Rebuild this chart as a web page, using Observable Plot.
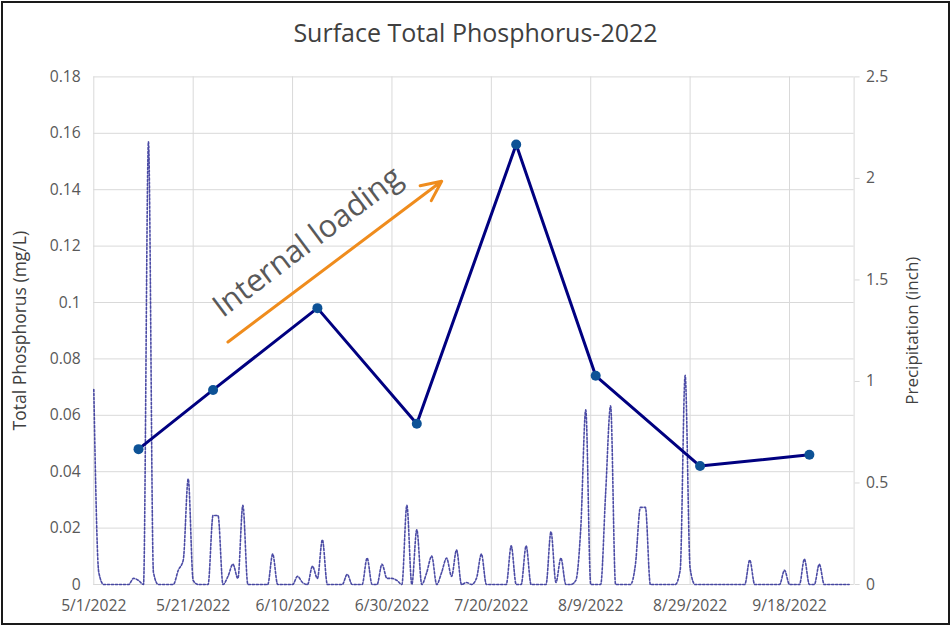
<!DOCTYPE html>
<html>
<head>
<meta charset="utf-8">
<script src="https://cdn.jsdelivr.net/npm/d3@7"></script>
<script src="https://cdn.jsdelivr.net/npm/@observablehq/plot@0.6"></script>
<style>
  html, body { margin: 0; padding: 0; background: #fff; }
  #wrap { position: relative; width: 951px; height: 626px; overflow: hidden; font-family: "Open Sans", sans-serif; }
  #title { position: absolute; left: 0; top: 15px; width: 951px; text-align: center; font-size: 25px; line-height: 34px; color: #404040; }
  #chart { position: absolute; left: 0; top: 58px; }
  #frame { position: absolute; left: 1px; top: 1px; width: 945px; height: 620px; border: 2px solid #1a1a1a; pointer-events: none; }
</style>
</head>
<body>
<div id="wrap">
  <div id="title">Surface Total Phosphorus-2022</div>
  <div id="chart"></div>
  <div id="frame"></div>
</div>
<script>
// ---- data ----
const tpDates = ["2022-05-10","2022-05-25","2022-06-15","2022-07-05","2022-07-25","2022-08-10","2022-08-31","2022-09-22"];
const tpValues = [0.048, 0.069, 0.098, 0.057, 0.156, 0.074, 0.042, 0.046];

const precipStart = "2022-05-01";
const precipValues = [
  0.96, 0.06, 0, 0, 0, 0, 0, 0, 0.03, 0.02,        // May 1-10
  0, 2.18, 0.06, 0, 0, 0, 0, 0.07, 0.12, 0.52,      // May 11-20
  0.02, 0, 0, 0, 0.34, 0.34, 0, 0.04, 0.10, 0.03,   // May 21-30
  0.39, 0, 0, 0, 0, 0, 0.15, 0, 0, 0,               // May 31-Jun 9
  0, 0.04, 0.01, 0, 0.09, 0.03, 0.22, 0, 0, 0,      // Jun 10-19
  0, 0.05, 0, 0, 0, 0.13, 0, 0, 0.10, 0.03,         // Jun 20-29
  0.03, 0.02, 0, 0.39, 0, 0.27, 0, 0.06, 0.14, 0,   // Jun 30-Jul 9
  0.06, 0.13, 0.04, 0.17, 0, 0.01, 0, 0.03, 0.15, 0,// Jul 10-19
  0, 0, 0, 0, 0.19, 0, 0, 0.19, 0, 0,               // Jul 20-29
  0, 0, 0.26, 0.01, 0.13, 0, 0, 0.02, 0.28, 0.86,   // Jul 30-Aug 8
  0, 0, 0, 0.45, 0.88, 0, 0, 0, 0, 0.10,            // Aug 9-18
  0.38, 0.38, 0, 0, 0, 0, 0, 0, 0.07, 1.03,         // Aug 19-28
  0.08, 0, 0, 0, 0, 0, 0, 0, 0, 0,                  // Aug 29-Sep 7
  0, 0, 0.12, 0, 0, 0, 0, 0, 0, 0.07,               // Sep 8-17
  0, 0, 0, 0.125, 0, 0, 0.10, 0, 0, 0,              // Sep 18-27
  0, 0, 0                                           // Sep 28-30
];

const xTicks = ["2022-05-01","2022-05-21","2022-06-10","2022-06-30","2022-07-20","2022-08-09","2022-08-29","2022-09-18"];
const xDomain = ["2022-05-01","2022-10-01"];
const yLeftTicks = [0, 0.02, 0.04, 0.06, 0.08, 0.1, 0.12, 0.14, 0.16, 0.18];
const yRightTicks = [0, 0.5, 1, 1.5, 2, 2.5];

const arrowFrom = ["2022-05-28", 0.086];
const arrowTo = ["2022-07-10", 0.143];
const noteText = ["Internal loading"];
const notePos = ["2022-06-13", 0.1215];

const leftLabel = "Total Phosphorus (mg/L)";
const rightLabel = "Precipitation (inch)";

// ---- build ----
const P = s => new Date(s + "T00:00:00Z");
const yLeftMax = yLeftTicks[yLeftTicks.length - 1];
const yRightMax = yRightTicks[yRightTicks.length - 1];
const k = yLeftMax / yRightMax;

const tp = tpDates.map((d, i) => ({date: P(d), value: tpValues[i]}));
const precip = precipValues.map((v, i) => ({date: d3.utcDay.offset(P(precipStart), i), value: v, scaled: v * k}));
const fmtDate = d => `${d.getUTCMonth() + 1}/${d.getUTCDate()}/${d.getUTCFullYear()}`;
const fmtNum = d => String(+d.toFixed(3));
const grid = "#d9d9d9";
const textCol = "#595959";

const chart = Plot.plot({
  width: 951,
  height: 568,
  marginLeft: 93.3,
  marginRight: 97.4,
  marginTop: 18.4,
  marginBottom: 42,
  x: {type: "utc", domain: xDomain.map(P)},
  y: {domain: [0, yLeftMax]},
  style: {fontFamily: "'Open Sans', sans-serif", fontSize: "15.7px", color: textCol, background: "transparent", overflow: "visible"},
  marks: [
    Plot.gridY(yLeftTicks, {stroke: grid, strokeOpacity: 1}),
    Plot.gridX(xTicks.map(P), {stroke: grid, strokeOpacity: 1}),
    Plot.ruleY([0], {stroke: grid, strokeWidth: 1.2}),
    Plot.ruleX([P(xDomain[1])], {stroke: grid}),
    Plot.axisX(xTicks.map(P), {tickSize: 0, tickPadding: 15, tickFormat: fmtDate, label: null, fill: textCol}),
    Plot.axisY(yLeftTicks, {anchor: "left", tickSize: 0, tickPadding: 13, tickFormat: fmtNum, label: null, fill: textCol}),
    Plot.axisY(yRightTicks.map(v => v * k), {anchor: "right", tickSize: 5, tickPadding: 7, stroke: grid, fill: textCol, tickFormat: d => fmtNum(d / k), label: null}),
    Plot.text([leftLabel], {frameAnchor: "left", dx: -73, rotate: -90, textAnchor: "middle", fill: "#404040", fontSize: 17.5}),
    Plot.text([rightLabel], {frameAnchor: "right", dx: 58.5, rotate: -90, textAnchor: "middle", fill: "#404040", fontSize: 17}),
    Plot.lineY(precip, {x: "date", y: "scaled", curve: "monotone-x", stroke: "#2b2b95", strokeOpacity: 0.85, strokeWidth: 1.6, strokeDasharray: "2.2,1.8"}),
    Plot.line(tp, {x: "date", y: "value", stroke: "#000080", strokeWidth: 3}),
    Plot.dot(tp, {x: "date", y: "value", r: 5, fill: "#0d5296", stroke: "none"}),
    Plot.arrow([0], {x1: () => P(arrowFrom[0]), y1: () => arrowFrom[1], x2: () => P(arrowTo[0]), y2: () => arrowTo[1], stroke: "#ef8c1d", strokeWidth: 3, headLength: 11, headAngle: 50}),
    Plot.text(noteText, {x: () => P(notePos[0]), y: () => notePos[1], rotate: -37, fontSize: 31, fill: textCol, textAnchor: "middle", lineAnchor: "middle"})
  ]
});
document.getElementById("chart").appendChild(chart);
</script>
</body>
</html>
